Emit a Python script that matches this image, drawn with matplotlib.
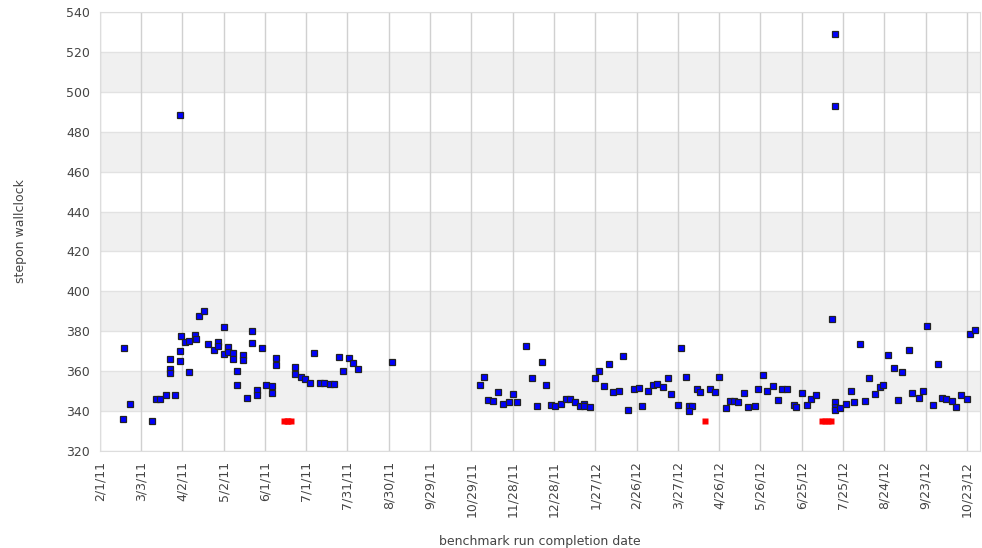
import datetime as dt
import numpy as np
import matplotlib
matplotlib.use("Agg")
import matplotlib.pyplot as plt
import matplotlib.dates as mdates

# runs are stored as days since 2/1/11
start = dt.datetime(2011, 2, 1)

run_day = [18, 22, 17, 38, 41, 44, 48, 55, 51, 51, 51, 58, 58, 58, 59, 62, 65, 65,
           69, 70, 72, 76, 79, 83, 86, 86, 90, 90, 93, 93, 97, 97, 100, 100, 104, 104,
           107, 111, 111, 114, 114, 118, 121, 125, 125, 128, 128, 142, 142, 146, 149,
           153, 156, 160, 163, 167, 170, 174, 177, 181, 184, 188, 212,
           276, 279, 282, 286, 289, 293, 297, 300, 303, 310, 314, 318, 321, 324, 328,
           331, 335, 339, 342, 345, 349, 352, 352, 356, 360, 363, 366, 370, 373, 377,
           380, 384, 388, 392, 394, 398, 402, 405, 409, 413, 415, 420, 422, 426, 428,
           430, 428, 434, 436, 443, 447, 450, 455, 458, 461, 464, 468, 471, 476, 478,
           482, 485, 489, 493, 496, 499, 504, 506, 510, 514, 517, 520, 532, 534, 534,
           534, 534, 534, 538, 542, 546, 548, 552, 556, 559, 563, 567, 569, 573, 577,
           580, 583, 588, 590, 595, 598, 601, 605, 609, 612, 615, 619, 622, 626, 630,
           632, 636]
wallclock = [371.6, 343.7, 336.2, 335.0, 346.1, 346.1, 347.9, 347.9, 366.0, 361.1, 359.1,
             370.0, 365.3, 488.4, 377.5, 374.6, 375.0, 359.4, 378.1, 376.1, 387.8, 390.2,
             373.5, 370.5, 374.8, 372.8, 382.0, 368.6, 372.0, 369.6, 369.3, 366.1, 359.9,
             352.9, 368.3, 365.8, 346.7, 380.0, 374.0, 350.6, 347.9, 371.5, 353.1, 352.4,
             348.9, 366.4, 362.9, 362.2, 358.4, 357.1, 355.9, 354.2, 369.3, 354.2, 354.2,
             353.6, 353.6, 367.0, 359.9, 366.4, 364.1, 361.1, 364.6,
             353.1, 357.1, 345.4, 344.9, 349.6, 343.7, 344.4, 348.4, 344.4, 372.8, 356.4,
             342.6, 364.6, 352.9, 343.1, 342.6, 343.7, 345.9, 345.9, 344.4, 342.4, 343.7,
             342.6, 341.9, 356.4, 359.9, 352.6, 363.4, 349.6, 350.1, 367.6, 340.4, 351.2,
             351.7, 342.6, 350.1, 353.1, 353.7, 351.9, 356.4, 348.4, 343.1, 371.6, 357.1,
             342.6, 342.6, 340.2, 351.2, 349.6, 351.2, 349.6, 357.1, 341.4, 344.9, 344.9,
             344.4, 348.9, 341.9, 342.6, 351.2, 358.2, 350.1, 352.4, 345.6, 351.2, 351.2,
             343.1, 342.1, 349.1, 343.1, 346.1, 347.9, 386.2, 344.4, 342.1, 340.5, 528.8,
             492.9, 341.4, 343.7, 350.1, 344.4, 373.5, 345.1, 356.4, 348.4, 352.0, 353.0,
             368.1, 361.8, 345.6, 359.4, 370.5, 349.1, 346.6, 350.2, 382.6, 343.1, 363.4,
             346.7, 346.1, 344.9, 342.1, 347.9, 346.1, 378.5, 380.8]

# failed runs, drawn at a fixed low value
fail_day = [134, 136, 137, 139, 440, 525, 527, 529, 531]
fail_value = 335

y_ticks = list(range(320, 541, 20))
x_tick_days = list(range(0, 631, 30))

dates = [start + dt.timedelta(days=d) for d in run_day]
fail_dates = [start + dt.timedelta(days=d) for d in fail_day]

fig = plt.figure(figsize=(9.82, 5.48), dpi=100)
ax = fig.add_axes([0.1015, 0.177, 0.8965, 0.801])

# alternating bands
for i, lo in enumerate(y_ticks[:-1]):
    if i % 2 == 1:
        ax.axhspan(lo, lo + 20, color="#f0f0f0", zorder=0, lw=0)
for v in y_ticks:
    ax.axhline(v, color="#e2e2e2", lw=1, zorder=0.5)

ax.plot(fail_dates, [fail_value] * len(fail_dates), "s", color="red", ms=4.5,
        mec="none", zorder=3)
ax.plot(dates, wallclock, "s", color="#0000ff", ms=4.6, mec="#222222", mew=0.9,
        zorder=4)

ax.set_xlim(start, start + dt.timedelta(days=639.5))
ax.set_ylim(320, 540)
ax.set_yticks(y_ticks)
tick_dates = [start + dt.timedelta(days=d) for d in x_tick_days]
ax.set_xticks(tick_dates)
ax.set_xticklabels([f"{t.month}/{t.day}/{t.strftime('%y')}" for t in tick_dates],
                   rotation=90)
ax.grid(axis="x", color="#d0d0d0", lw=1, zorder=0.6)
ax.set_axisbelow(True)
ax.tick_params(length=0, labelsize=9, colors="#444444", pad=7)

for s in ax.spines.values():
    s.set_color("#dddddd")

ax.set_ylabel("stepon wallclock", fontsize=9, color="#444444", labelpad=28)
ax.set_xlabel("benchmark run completion date", fontsize=9, color="#444444", labelpad=13)

fig.savefig("out.png", dpi=100)
